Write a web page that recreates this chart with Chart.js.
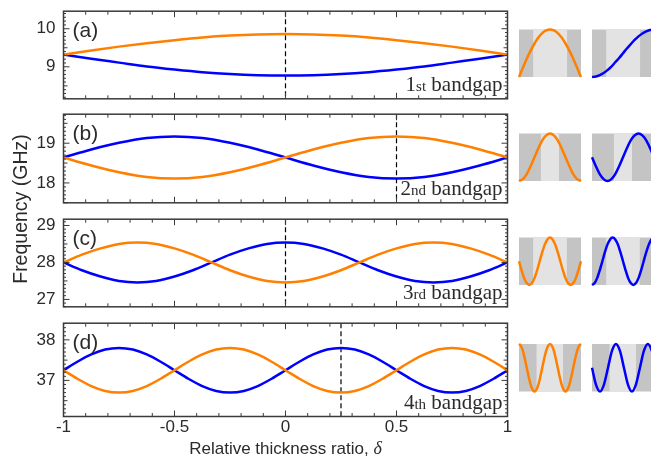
<!DOCTYPE html>
<html>
<head>
<meta charset="utf-8">
<script src="https://cdn.jsdelivr.net/npm/chart.js@4.4.1/dist/chart.umd.min.js"></script>
<style>
  html, body { margin: 0; padding: 0; background: #fff; overflow: hidden; }
  #figure { position: relative; width: 651px; height: 462px; overflow: hidden; }
  #figure canvas { position: absolute; }
  #yTitle {
    position: absolute; left: -80px; top: 198px; width: 200px; height: 22px;
    line-height: 22px; text-align: center; transform: rotate(-90deg);
    font: 19.5px "Liberation Sans", Arial, sans-serif; color: #2b2b2b;
    filter: grayscale(100%);
  }
</style>
</head>
<body>
<div id="figure">
  <div id="yTitle">Frequency (GHz)</div>
</div>
<script>
const deltaAB = [-1, -0.875, -0.75, -0.625, -0.5, -0.375, -0.25, -0.125, 0, 0.125, 0.25, 0.375, 0.5, 0.625, 0.75, 0.875, 1]
const deltaC = [-1, -0.917, -0.833, -0.75, -0.667, -0.583, -0.5, -0.417, -0.333, -0.25, -0.167, -0.083, 0,
  0.083, 0.167, 0.25, 0.333, 0.417, 0.5, 0.583, 0.667, 0.75, 0.833, 0.917, 1]
const deltaD = [-1, -0.9375, -0.875, -0.8125, -0.75, -0.6875, -0.625, -0.5625, -0.5, -0.4375, -0.375, -0.3125,
  -0.25, -0.1875, -0.125, -0.0625, 0, 0.0625, 0.125, 0.1875, 0.25, 0.3125, 0.375, 0.4375, 0.5, 0.5625, 0.625,
  0.6875, 0.75, 0.8125, 0.875, 0.9375, 1]

// band edge frequencies (GHz)
const orangeA = [9.32, 9.43, 9.53, 9.62, 9.70, 9.77, 9.82, 9.85, 9.86, 9.85, 9.82, 9.77, 9.70, 9.62, 9.53, 9.43, 9.32]
const blueA = [9.32, 9.21, 9.11, 9.01, 8.93, 8.86, 8.81, 8.78, 8.77, 8.78, 8.81, 8.86, 8.93, 9.01, 9.11, 9.21, 9.32]
const orangeB = [18.64, 18.44, 18.27, 18.15, 18.11, 18.15, 18.27, 18.44, 18.64, 18.84, 19.01, 19.13, 19.17, 19.13, 19.01, 18.84, 18.64]
const blueB = [18.64, 18.84, 19.01, 19.13, 19.17, 19.13, 19.01, 18.84, 18.64, 18.44, 18.27, 18.15, 18.11, 18.15, 18.27, 18.44, 18.64]
const orangeC = [28.00, 28.21, 28.38, 28.50, 28.54, 28.50, 28.38, 28.21, 28.00, 27.79, 27.62, 27.50, 27.46,
  27.50, 27.62, 27.79, 28.00, 28.21, 28.38, 28.50, 28.54, 28.50, 28.38, 28.21, 28.00]
const blueC = [28.00, 27.79, 27.62, 27.50, 27.46, 27.50, 27.62, 27.79, 28.00, 28.21, 28.38, 28.50, 28.54,
  28.50, 28.38, 28.21, 28.00, 27.79, 27.62, 27.50, 27.46, 27.50, 27.62, 27.79, 28.00]
const orangeD = [37.25, 37.04, 36.86, 36.74, 36.70, 36.74, 36.86, 37.04, 37.25, 37.46, 37.64, 37.76, 37.80, 37.76,
  37.64, 37.46, 37.25, 37.04, 36.86, 36.74, 36.70, 36.74, 36.86, 37.04, 37.25, 37.46, 37.64, 37.76, 37.80, 37.76,
  37.64, 37.46, 37.25]
const blueD = [37.25, 37.46, 37.64, 37.76, 37.80, 37.76, 37.64, 37.46, 37.25, 37.04, 36.86, 36.74, 36.70, 36.74,
  36.86, 37.04, 37.25, 37.46, 37.64, 37.76, 37.80, 37.76, 37.64, 37.46, 37.25, 37.04, 36.86, 36.74, 36.70, 36.74,
  36.86, 37.04, 37.25]

// axes
const rangeA = [8.16, 10.46]
const rangeB = [17.5, 19.73]
const rangeC = [26.8, 29.17]
const rangeD = [36.11, 38.41]
const ticksA = [9, 10]
const ticksB = [18, 19]
const ticksC = [27, 28, 29]
const ticksD = [37, 38]
const xTicks = [-1, -0.5, 0, 0.5, 1]
const dashAt = [0, 0.5, 0, 0.25]
const panelLabels = ['(a)', '(b)', '(c)', '(d)']
const gapNumbers = ['1', '2', '3', '4']
const gapSuffixes = ['st', 'nd', 'rd', 'th']

// mode profiles across one unit cell (normalised field, -1..1)
const cellT16 = [0, 0.0625, 0.125, 0.1875, 0.25, 0.3125, 0.375, 0.4375, 0.5, 0.5625, 0.625, 0.6875, 0.75, 0.8125, 0.875, 0.9375, 1]
const cellT24 = [0, 0.042, 0.083, 0.125, 0.167, 0.208, 0.25, 0.292, 0.333, 0.375, 0.417, 0.458, 0.5,
  0.542, 0.583, 0.625, 0.667, 0.708, 0.75, 0.792, 0.833, 0.875, 0.917, 0.958, 1]
const cellT32 = [0, 0.031, 0.063, 0.094, 0.125, 0.156, 0.188, 0.219, 0.25, 0.281, 0.313, 0.344, 0.375, 0.406,
  0.438, 0.469, 0.5, 0.531, 0.563, 0.594, 0.625, 0.656, 0.688, 0.719, 0.75, 0.781, 0.813, 0.844, 0.875, 0.906,
  0.938, 0.969, 1]
const cellTD2 = [0, 0.064, 0.129, 0.193, 0.258, 0.322, 0.386, 0.451, 0.515, 0.58, 0.644, 0.708, 0.773, 0.837, 0.901, 0.966, 1]

const modeA1 = [-1, -0.61, -0.23, 0.11, 0.41, 0.66, 0.85, 0.96, 1, 0.96, 0.85, 0.66, 0.41, 0.11, -0.23, -0.61, -1]
const modeA2 = [-1, -0.98, -0.92, -0.83, -0.71, -0.56, -0.38, -0.2, 0, 0.2, 0.38, 0.56, 0.71, 0.83, 0.92, 0.98, 1]
const modeB1 = [-1, -0.92, -0.71, -0.38, 0, 0.38, 0.71, 0.92, 1, 0.92, 0.71, 0.38, 0, -0.38, -0.71, -0.92, -1]
const modeB2 = [0, -0.38, -0.71, -0.92, -1, -0.92, -0.71, -0.38, 0, 0.38, 0.71, 0.92, 1, 0.92, 0.71, 0.38, 0]
const modeC1 = [0, -0.38, -0.71, -0.92, -1, -0.92, -0.71, -0.38, 0, 0.38, 0.71, 0.92, 1, 0.92, 0.71, 0.38, 0,
  -0.38, -0.71, -0.92, -1, -0.92, -0.71, -0.38, 0]
const modeC2 = [-1, -0.92, -0.71, -0.38, 0, 0.38, 0.71, 0.92, 1, 0.92, 0.71, 0.38, 0, -0.38, -0.71, -0.92, -1,
  -0.92, -0.71, -0.38, 0, 0.38, 0.71, 0.92, 1]
const modeD1 = [1, 0.92, 0.71, 0.38, 0, -0.38, -0.71, -0.92, -1, -0.92, -0.71, -0.38, 0, 0.38, 0.71, 0.92, 1,
  0.92, 0.71, 0.38, 0, -0.38, -0.71, -0.92, -1, -0.92, -0.71, -0.38, 0, 0.38, 0.71, 0.92, 1]
const modeD2 = [0, -0.71, -1, -0.71, 0, 0.71, 1, 0.71, 0, -0.71, -1, -0.71, 0, 0.71, 1, 0.71, 0.36]

// layer edges inside the unit cell (light layer between the two values)
const layersA = [0.228, 0.775]
const layersB = [0.353, 0.645]
const layersC = [0.228, 0.772]
const layersD = [0.283, 0.71]

const ORANGE = '#ff8000'
const BLUE = '#0000ff'
const INK = '#2b2b2b'
const FRAME = '#3a3a3a'
const SANS = '"Liberation Sans", Arial, sans-serif'
const SERIF = '"Liberation Serif", "Times New Roman", serif'

Chart.defaults.font.family = SANS
Chart.defaults.color = INK

const fig = document.getElementById('figure')

const toPoints = (xs, ys) => xs.map((x, i) => ({ x, y: ys[i] }))

function strokeTick(ctx, x1, y1, x2, y2) {
  ctx.beginPath()
  ctx.moveTo(x1, y1)
  ctx.lineTo(x2, y2)
  ctx.stroke()
}

const framePlugin = {
  id: 'frame',
  beforeDatasetsDraw(chart, args, opts) {
    const { ctx, chartArea: a, scales } = chart
    const px = scales.x.getPixelForValue(opts.dash)
    ctx.save()
    ctx.strokeStyle = '#000'
    ctx.lineWidth = 1.2
    ctx.setLineDash([5, 3])
    strokeTick(ctx, px, a.top, px, a.bottom)
    ctx.restore()
  },
  afterDatasetsDraw(chart, args, opts) {
    const { ctx, chartArea: a, scales } = chart
    const x = scales.x
    const y = scales.y
    ctx.save()
    ctx.strokeStyle = FRAME
    ctx.lineWidth = 1
    // x ticks, top and bottom, pointing in
    for (let i = 0; i <= 20; i++) {
      const px = x.getPixelForValue(-1 + i / 10)
      const len = i % 5 === 0 ? 6 : 3.5
      strokeTick(ctx, px, a.bottom, px, a.bottom - len)
      strokeTick(ctx, px, a.top, px, a.top + len)
    }
    // y ticks, left and right
    for (let k = Math.ceil(y.min * 10); k <= Math.floor(y.max * 10); k++) {
      const py = y.getPixelForValue(k / 10)
      const len = k % 10 === 0 ? 6 : (k % 5 === 0 ? 4 : 2.5)
      strokeTick(ctx, a.left, py, a.left + len, py)
      strokeTick(ctx, a.right, py, a.right - len, py)
    }
    ctx.lineWidth = 1.5
    ctx.strokeRect(a.left, a.top, a.right - a.left, a.bottom - a.top)

    // panel letter
    ctx.fillStyle = INK
    ctx.textBaseline = 'alphabetic'
    ctx.textAlign = 'left'
    ctx.font = `21px ${SANS}`
    ctx.fillText(opts.label, a.left + 9, a.top + 25.5)

    // "1st bandgap"
    const big = `21px ${SERIF}`
    const small = `15px ${SERIF}`
    ctx.font = big
    const w1 = ctx.measureText(opts.num).width
    const w3 = ctx.measureText(' bandgap').width
    ctx.font = small
    const w2 = ctx.measureText(opts.suffix).width
    let tx = a.right - 5 - (w1 + w2 + w3)
    const ty = a.bottom - 7.5
    ctx.font = big
    ctx.fillText(opts.num, tx, ty)
    tx += w1
    ctx.font = small
    ctx.fillText(opts.suffix, tx, ty)
    tx += w2
    ctx.font = big
    ctx.fillText(' bandgap', tx, ty)

    // x axis title on the bottom panel
    if (opts.xTitle) {
      const part1 = 'Relative thickness ratio, '
      const part2 = 'δ'
      const f1 = `17px ${SANS}`
      const f2 = `italic 18px ${SERIF}`
      ctx.font = f1
      const m1 = ctx.measureText(part1).width
      ctx.font = f2
      const m2 = ctx.measureText(part2).width
      let sx = (a.left + a.right) / 2 - (m1 + m2) / 2
      const sy = 453.5 - chart.canvas.offsetTop
      ctx.font = f1
      ctx.fillText(part1, sx, sy)
      sx += m1
      ctx.font = f2
      ctx.fillText(part2, sx, sy)
    }
    ctx.restore()
  },
}

const panels = [
  { top: 5.5, bottom: 104.5, x: deltaAB, orange: orangeA, blue: blueA, range: rangeA, ticks: ticksA },
  { top: 108, bottom: 208.5, x: deltaAB, orange: orangeB, blue: blueB, range: rangeB, ticks: ticksB },
  { top: 213, bottom: 313, x: deltaC, orange: orangeC, blue: blueC, range: rangeC, ticks: ticksC },
  { top: 317.5, bottom: 416.5, x: deltaD, orange: orangeD, blue: blueD, range: rangeD, ticks: ticksD },
]

const PLOT_LEFT = 63.5
const PLOT_RIGHT = 507.5
const CANVAS_W = 520

function makePanel(p, i) {
  const isLast = i === panels.length - 1
  const top = Math.floor(p.top) - 12
  const height = isLast ? 462 - top : Math.ceil(p.bottom) + 12 - top
  const canvas = document.createElement('canvas')
  canvas.width = CANVAS_W
  canvas.height = height
  canvas.style.left = '0px'
  canvas.style.top = `${top}px`
  fig.appendChild(canvas)

  const line = (data, color) => ({
    data,
    borderColor: color,
    borderWidth: 2.5,
    pointRadius: 0,
    cubicInterpolationMode: 'monotone',
    fill: false,
  })

  return new Chart(canvas, {
    type: 'line',
    data: {
      datasets: [line(toPoints(p.x, p.orange), ORANGE), line(toPoints(p.x, p.blue), BLUE)],
    },
    options: {
      responsive: false,
      animation: false,
      events: [],
      layout: {
        padding: {
          top: p.top - top,
          bottom: isLast ? 0 : height - (p.bottom - top),
          left: 0,
          right: CANVAS_W - PLOT_RIGHT,
        },
      },
      scales: {
        x: {
          type: 'linear',
          min: -1,
          max: 1,
          display: isLast,
          afterBuildTicks: (s) => {
            s.ticks = xTicks.map((v) => ({ value: v }))
          },
          afterFit: (s) => {
            s.height = isLast ? 462 - p.bottom : 0
          },
          grid: { display: false, drawTicks: false },
          border: { display: false },
          ticks: {
            color: INK,
            font: { size: 17 },
            padding: 1,
            maxRotation: 0,
            autoSkip: false,
            callback: (v) => String(v),
          },
        },
        y: {
          type: 'linear',
          min: p.range[0],
          max: p.range[1],
          afterBuildTicks: (s) => {
            s.ticks = p.ticks.map((v) => ({ value: v }))
          },
          afterFit: (s) => {
            s.width = PLOT_LEFT
          },
          grid: { display: false, drawTicks: false },
          border: { display: false },
          ticks: { color: INK, font: { size: 17 }, padding: 8, autoSkip: false },
        },
      },
      plugins: {
        legend: { display: false },
        tooltip: { enabled: false },
        frame: {
          dash: dashAt[i],
          label: panelLabels[i],
          num: gapNumbers[i],
          suffix: gapSuffixes[i],
          xTitle: isLast,
        },
      },
    },
    plugins: [framePlugin],
  })
}

panels.forEach(makePanel)

// unit-cell insets on the right
const layerPlugin = {
  id: 'layers',
  beforeDatasetsDraw(chart, args, opts) {
    const { ctx, chartArea: a, scales } = chart
    const x0 = scales.x.getPixelForValue(opts.edges[0])
    const x1 = scales.x.getPixelForValue(opts.edges[1])
    ctx.save()
    ctx.fillStyle = '#c4c4c4'
    ctx.fillRect(a.left, a.top, a.right - a.left, a.bottom - a.top)
    ctx.fillStyle = '#e3e3e3'
    ctx.fillRect(x0, a.top, x1 - x0, a.bottom - a.top)
    ctx.restore()
  },
}

const insetRows = [
  { top: 29.5, layers: layersA, left: { t: cellT16, v: modeA1 }, right: { t: cellT16, v: modeA2 } },
  { top: 133.5, layers: layersB, left: { t: cellT16, v: modeB1 }, right: { t: cellT16, v: modeB2 } },
  { top: 237.5, layers: layersC, left: { t: cellT24, v: modeC1 }, right: { t: cellT24, v: modeC2 } },
  { top: 344, layers: layersD, left: { t: cellT32, v: modeD1 }, right: { t: cellTD2, v: modeD2 } },
]

const INSET_W = 62
const INSET_H = 47.5
const INSET_PAD = 4

function makeInset(left, top, curve, color, layers) {
  const canvas = document.createElement('canvas')
  canvas.width = INSET_W + 2 * INSET_PAD
  canvas.height = Math.ceil(INSET_H) + 2 * INSET_PAD
  canvas.style.left = `${left - INSET_PAD}px`
  canvas.style.top = `${Math.floor(top) - INSET_PAD}px`
  fig.appendChild(canvas)
  const padTop = INSET_PAD + (top - Math.floor(top))
  new Chart(canvas, {
    type: 'line',
    data: {
      datasets: [{
        data: toPoints(curve.t, curve.v),
        borderColor: color,
        borderWidth: 2.5,
        pointRadius: 0,
        cubicInterpolationMode: 'monotone',
        clip: false,
      }],
    },
    options: {
      responsive: false,
      animation: false,
      events: [],
      layout: {
        padding: { left: INSET_PAD, right: INSET_PAD, top: padTop, bottom: canvas.height - padTop - INSET_H },
      },
      scales: {
        x: { type: 'linear', min: 0, max: 1, display: false },
        y: { min: -1, max: 1, display: false },
      },
      plugins: {
        legend: { display: false },
        tooltip: { enabled: false },
        layers: { edges: layers },
      },
    },
    plugins: [layerPlugin],
  })
}

insetRows.forEach((row) => {
  makeInset(519.3, row.top, row.left, ORANGE, row.layers)
  makeInset(591.7, row.top, row.right, BLUE, row.layers)
})
</script>
</body>
</html>
